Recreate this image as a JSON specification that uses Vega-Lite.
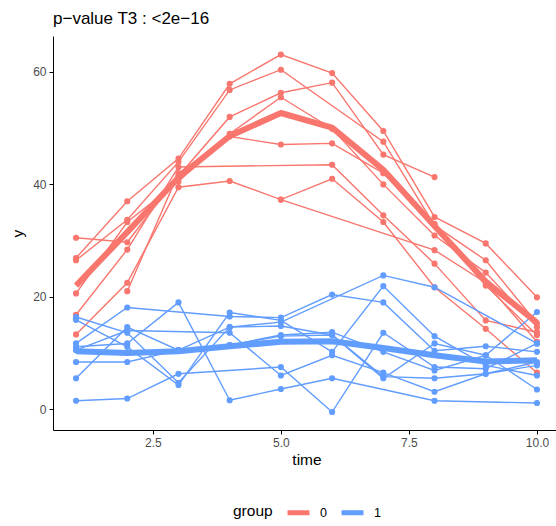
{
  "$schema": "https://vega.github.io/schema/vega-lite/v6.json",
  "autosize": "none",
  "padding": {"left": 53, "top": 36, "right": 0, "bottom": 96},
  "width": 507,
  "height": 394,
  "title": {"text": "p−value T3 : <2e−16", "anchor": "start", "frame": "group", "fontSize": 17, "fontWeight": "normal", "color": "black", "offset": 8, "font": "Liberation Sans"},
  "config": {"view": {"stroke": null}, "font": "Liberation Sans"},
  "data": {"values": [
    {"g":"0","id":"r1","t":1,"y":30.5},{"g":"0","id":"r1","t":2,"y":29.7},{"g":"0","id":"r1","t":3,"y":41.5},{"g":"0","id":"r1","t":4,"y":52.0},{"g":"0","id":"r1","t":5,"y":56.3},{"g":"0","id":"r1","t":6,"y":58.1},{"g":"0","id":"r1","t":7,"y":45.3},{"g":"0","id":"r1","t":8,"y":41.3},
    {"g":"0","id":"r2","t":1,"y":26.9},{"g":"0","id":"r2","t":2,"y":37.0},{"g":"0","id":"r2","t":3,"y":44.6},{"g":"0","id":"r2","t":4,"y":57.9},{"g":"0","id":"r2","t":5,"y":63.1},{"g":"0","id":"r2","t":6,"y":59.8},{"g":"0","id":"r2","t":7,"y":49.5},{"g":"0","id":"r2","t":8,"y":34.2},{"g":"0","id":"r2","t":9,"y":29.5},{"g":"0","id":"r2","t":10,"y":19.9},
    {"g":"0","id":"r3","t":1,"y":26.5},{"g":"0","id":"r3","t":2,"y":33.7},{"g":"0","id":"r3","t":3,"y":44.0},{"g":"0","id":"r3","t":4,"y":56.8},{"g":"0","id":"r3","t":5,"y":60.4},{"g":"0","id":"r3","t":7,"y":47.6},{"g":"0","id":"r3","t":8,"y":32.7},{"g":"0","id":"r3","t":9,"y":26.5},{"g":"0","id":"r3","t":10,"y":15.3},
    {"g":"0","id":"r4","t":1,"y":20.6},{"g":"0","id":"r4","t":2,"y":33.3},{"g":"0","id":"r4","t":3,"y":40.5},{"g":"0","id":"r4","t":4,"y":49.0},{"g":"0","id":"r4","t":5,"y":55.5},{"g":"0","id":"r4","t":6,"y":49.9},{"g":"0","id":"r4","t":7,"y":40.0},{"g":"0","id":"r4","t":8,"y":30.9},{"g":"0","id":"r4","t":9,"y":24.3},{"g":"0","id":"r4","t":10,"y":14.6},
    {"g":"0","id":"r5","t":1,"y":16.8},{"g":"0","id":"r5","t":2,"y":28.4},{"g":"0","id":"r5","t":3,"y":43.1},{"g":"0","id":"r5","t":6,"y":43.5},{"g":"0","id":"r5","t":7,"y":34.5},{"g":"0","id":"r5","t":8,"y":25.9},{"g":"0","id":"r5","t":9,"y":15.8},{"g":"0","id":"r5","t":10,"y":13.7},
    {"g":"0","id":"r6","t":1,"y":13.3},{"g":"0","id":"r6","t":2,"y":22.5},{"g":"0","id":"r6","t":3,"y":39.5},{"g":"0","id":"r6","t":4,"y":40.6},{"g":"0","id":"r6","t":5,"y":37.3},{"g":"0","id":"r6","t":6,"y":41.0},{"g":"0","id":"r6","t":7,"y":33.3},{"g":"0","id":"r6","t":8,"y":21.7},{"g":"0","id":"r6","t":9,"y":14.3},{"g":"0","id":"r6","t":10,"y":6.5},
    {"g":"0","id":"r7","t":2,"y":21.0},{"g":"0","id":"r7","t":3,"y":42.0},{"g":"0","id":"r7","t":4,"y":48.5},{"g":"0","id":"r7","t":5,"y":47.1},{"g":"0","id":"r7","t":6,"y":47.3},{"g":"0","id":"r7","t":7,"y":42.0},{"g":"0","id":"r7","t":8,"y":33.0},{"g":"0","id":"r7","t":9,"y":22.0},{"g":"0","id":"r7","t":10,"y":13.2},
    {"g":"0","id":"r8","t":5,"y":37.3},{"g":"0","id":"r8","t":8,"y":28.3},{"g":"0","id":"r8","t":9,"y":22.5},{"g":"0","id":"r8","t":10,"y":12.0},
    {"g":"1","id":"b1","t":1,"y":1.5},{"g":"1","id":"b1","t":2,"y":1.9},{"g":"1","id":"b1","t":3,"y":6.3},{"g":"1","id":"b1","t":5,"y":7.5},{"g":"1","id":"b1","t":6,"y":-0.5},{"g":"1","id":"b1","t":7,"y":13.6},{"g":"1","id":"b1","t":8,"y":7.5},{"g":"1","id":"b1","t":9,"y":7.2},{"g":"1","id":"b1","t":10,"y":11.7},
    {"g":"1","id":"b2","t":1,"y":5.5},{"g":"1","id":"b2","t":2,"y":14.6},{"g":"1","id":"b2","t":3,"y":10.5},{"g":"1","id":"b2","t":4,"y":11.4},{"g":"1","id":"b2","t":5,"y":13.2},{"g":"1","id":"b2","t":6,"y":13.7},{"g":"1","id":"b2","t":7,"y":10.2},{"g":"1","id":"b2","t":8,"y":6.9},{"g":"1","id":"b2","t":9,"y":9.6},{"g":"1","id":"b2","t":10,"y":3.5},
    {"g":"1","id":"b3","t":1,"y":8.4},{"g":"1","id":"b3","t":2,"y":8.4},{"g":"1","id":"b3","t":3,"y":10.5},{"g":"1","id":"b3","t":4,"y":14.6},{"g":"1","id":"b3","t":5,"y":14.8},{"g":"1","id":"b3","t":6,"y":13.2},{"g":"1","id":"b3","t":7,"y":5.8},{"g":"1","id":"b3","t":8,"y":5.5},{"g":"1","id":"b3","t":9,"y":6.3},{"g":"1","id":"b3","t":10,"y":8.4},
    {"g":"1","id":"b4","t":1,"y":11.7},{"g":"1","id":"b4","t":2,"y":18.1},{"g":"1","id":"b4","t":4,"y":16.5},{"g":"1","id":"b4","t":5,"y":16.3},{"g":"1","id":"b4","t":6,"y":20.4},{"g":"1","id":"b4","t":7,"y":19.0},{"g":"1","id":"b4","t":8,"y":10.4},{"g":"1","id":"b4","t":9,"y":11.2},{"g":"1","id":"b4","t":10,"y":10.2},
    {"g":"1","id":"b5","t":1,"y":16.4},{"g":"1","id":"b5","t":2,"y":13.6},{"g":"1","id":"b5","t":3,"y":4.7},{"g":"1","id":"b5","t":4,"y":14.6},{"g":"1","id":"b5","t":5,"y":15.5},{"g":"1","id":"b5","t":7,"y":23.8},{"g":"1","id":"b5","t":8,"y":21.7},{"g":"1","id":"b5","t":10,"y":11.7},
    {"g":"1","id":"b6","t":1,"y":15.9},{"g":"1","id":"b6","t":2,"y":11.1},{"g":"1","id":"b6","t":3,"y":4.3},{"g":"1","id":"b6","t":4,"y":17.2},{"g":"1","id":"b6","t":5,"y":15.8},{"g":"1","id":"b6","t":6,"y":10.2},{"g":"1","id":"b6","t":7,"y":21.9},{"g":"1","id":"b6","t":8,"y":13.0},{"g":"1","id":"b6","t":9,"y":7.8},{"g":"1","id":"b6","t":10,"y":6.0},
    {"g":"1","id":"b7","t":1,"y":11.1},{"g":"1","id":"b7","t":2,"y":11.7},{"g":"1","id":"b7","t":3,"y":19.0},{"g":"1","id":"b7","t":4,"y":1.6},{"g":"1","id":"b7","t":5,"y":3.6},{"g":"1","id":"b7","t":6,"y":5.5},{"g":"1","id":"b7","t":8,"y":1.5},{"g":"1","id":"b7","t":10,"y":1.1},
    {"g":"1","id":"b8","t":1,"y":10.5},{"g":"1","id":"b8","t":2,"y":14.0},{"g":"1","id":"b8","t":4,"y":13.6},{"g":"1","id":"b8","t":5,"y":6.0},{"g":"1","id":"b8","t":6,"y":9.6},{"g":"1","id":"b8","t":7,"y":6.5},{"g":"1","id":"b8","t":8,"y":3.1},{"g":"1","id":"b8","t":9,"y":6.3},{"g":"1","id":"b8","t":10,"y":7.8},
    {"g":"1","id":"b9","t":2,"y":10.0},{"g":"1","id":"b9","t":3,"y":10.5},{"g":"1","id":"b9","t":4,"y":11.4},{"g":"1","id":"b9","t":5,"y":13.0},{"g":"1","id":"b9","t":6,"y":13.2},{"g":"1","id":"b9","t":7,"y":5.5},{"g":"1","id":"b9","t":8,"y":11.7},{"g":"1","id":"b9","t":9,"y":9.6},{"g":"1","id":"b9","t":10,"y":17.3},
    {"g":"0","id":"m0","t":1,"y":22.0,"m":1},{"g":"0","id":"m0","t":2,"y":31.5,"m":1},{"g":"0","id":"m0","t":3,"y":41.2,"m":1},{"g":"0","id":"m0","t":4,"y":48.6,"m":1},{"g":"0","id":"m0","t":5,"y":52.7,"m":1},{"g":"0","id":"m0","t":6,"y":50.1,"m":1},{"g":"0","id":"m0","t":7,"y":42.6,"m":1},{"g":"0","id":"m0","t":8,"y":32.6,"m":1},{"g":"0","id":"m0","t":9,"y":22.7,"m":1},{"g":"0","id":"m0","t":10,"y":15.4,"m":1},
    {"g":"1","id":"m1","t":1,"y":10.3,"m":1},{"g":"1","id":"m1","t":2,"y":10.0,"m":1},{"g":"1","id":"m1","t":3,"y":10.3,"m":1},{"g":"1","id":"m1","t":4,"y":11.2,"m":1},{"g":"1","id":"m1","t":5,"y":12.0,"m":1},{"g":"1","id":"m1","t":6,"y":12.1,"m":1},{"g":"1","id":"m1","t":7,"y":10.9,"m":1},{"g":"1","id":"m1","t":8,"y":9.6,"m":1},{"g":"1","id":"m1","t":9,"y":8.5,"m":1},{"g":"1","id":"m1","t":10,"y":8.7,"m":1}
  ]},
  "encoding": {
    "x": {"field": "t", "type": "quantitative", "title": "time",
      "scale": {"domain": [0.55, 10.45], "nice": false, "zero": false},
      "axis": {"values": [2.5, 5, 7.5, 10], "format": ".1f", "grid": false, "domainColor": "black", "tickColor": "black", "tickSize": 4, "labelColor": "#4D4D4D", "labelFontSize": 12, "labelPadding": 3, "titleFontSize": 15.5, "titleFontWeight": "normal", "titleColor": "black", "titlePadding": 4}},
    "y": {"field": "y", "type": "quantitative", "title": "y",
      "scale": {"domain": [-3.7, 66.4], "nice": false, "zero": false},
      "axis": {"values": [0, 20, 40, 60], "grid": false, "domainColor": "black", "tickColor": "black", "tickSize": 4, "labelColor": "#4D4D4D", "labelFontSize": 12, "labelPadding": 3, "titleFontSize": 15.5, "titleFontWeight": "normal", "titleColor": "black", "titlePadding": 7}},
    "color": {"field": "g", "type": "nominal", "title": "group",
      "scale": {"domain": ["0", "1"], "range": ["#F8766D", "#619CFF"]},
      "legend": {"orient": "none", "legendX": 180, "legendY": 463, "direction": "horizontal", "titleOrient": "left", "titleFontSize": 15.5, "titleFontWeight": "normal", "titleColor": "black", "titlePadding": 12, "labelFontSize": 12.5, "labelColor": "black", "symbolType": "stroke", "symbolStrokeWidth": 5, "symbolSize": 484, "symbolOpacity": 1, "columnPadding": 4, "labelOffset": 8}}
  },
  "layer": [
    {"transform": [{"filter": "!datum.m"}], "mark": {"type": "line", "strokeWidth": 1.4, "strokeCap": "butt"}, "encoding": {"detail": {"field": "id"}}},
    {"transform": [{"filter": "!datum.m"}], "mark": {"type": "point", "filled": true, "opacity": 1, "size": 38}},
    {"transform": [{"filter": "datum.m"}], "mark": {"type": "line", "strokeWidth": 6, "strokeCap": "butt", "strokeJoin": "round"}, "encoding": {"detail": {"field": "id"}}}
  ]
}
